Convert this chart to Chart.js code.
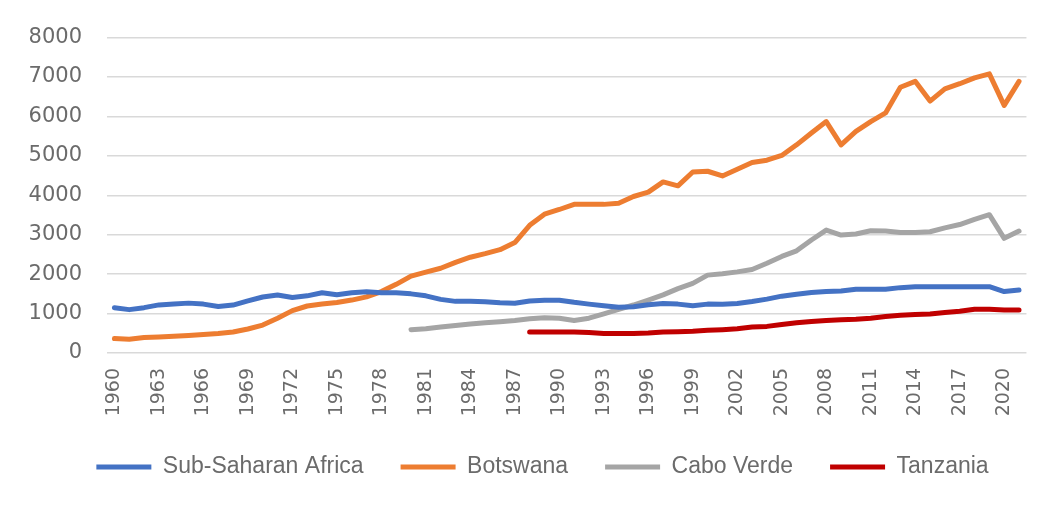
<!DOCTYPE html>
<html>
<head>
<meta charset="utf-8">
<script src="https://cdn.jsdelivr.net/npm/chart.js@4/dist/chart.umd.min.js"></script>
<style>
html,body{margin:0;padding:0;background:#fff;}
#wrap{width:1057px;height:508px;}
</style>
</head>
<body>
<div id="wrap"><canvas id="c" width="1057" height="508"></canvas></div>
<script>
const years = ['1960','1961','1962','1963','1964','1965','1966','1967','1968','1969',
'1970','1971','1972','1973','1974','1975','1976','1977','1978','1979',
'1980','1981','1982','1983','1984','1985','1986','1987','1988','1989',
'1990','1991','1992','1993','1994','1995','1996','1997','1998','1999',
'2000','2001','2002','2003','2004','2005','2006','2007','2008','2009',
'2010','2011','2012','2013','2014','2015','2016','2017','2018','2019',
'2020','2021'];

const subSaharanAfrica = [1150,1100,1150,1220,1240,1265,1240,1180,1215,1320,
1420,1470,1410,1450,1530,1480,1530,1555,1530,1530,
1500,1450,1360,1310,1310,1300,1275,1260,1320,1340,
1340,1285,1240,1200,1160,1175,1225,1255,1240,1200,
1240,1235,1258,1308,1367,1442,1492,1533,1558,1575,
1617,1617,1617,1658,1683,1683,1683,1683,1683,1683,
1558,1600];

const botswana = [367,350,392,408,425,442,467,492,533,608,
708,883,1075,1192,1242,1283,1342,1425,1558,1742,
1950,2050,2150,2300,2430,2520,2620,2800,3240,3520,
3640,3770,3770,3770,3800,3970,4080,4340,4240,4590,
4610,4490,4660,4830,4890,5010,5280,5580,5870,5280,
5620,5870,6090,6740,6890,6390,6700,6830,6980,7080,
6280,6890];

const caboVerde = [null,null,null,null,null,null,null,null,null,null,
null,null,null,null,null,null,null,null,null,null,
592,617,658,700,733,767,792,825,867,892,
883,825,883,992,1108,1217,1342,1475,1633,1767,
1975,2010,2058,2117,2275,2450,2592,2867,3117,2992,
3017,3100,3092,3058,3058,3075,3175,3258,3392,3508,
2908,3092];

const tanzania = [null,null,null,null,null,null,null,null,null,null,
null,null,null,null,null,null,null,null,null,null,
null,null,null,null,null,null,null,null,533,533,
533,533,517,492,492,492,508,533,542,550,
575,592,617,658,675,725,767,800,825,842,
858,883,925,958,975,992,1025,1058,1108,1108,
1092,1092];

const seriesNames = ['Sub-Saharan Africa','Botswana','Cabo Verde','Tanzania'];
const yTicks = [0,1000,2000,3000,4000,5000,6000,7000,8000];

const colors = ['#4472C4','#ED7D31','#A5A5A5','#C00000'];
const seriesData = [subSaharanAfrica, botswana, caboVerde, tanzania];

const datasets = seriesNames.map((name, i) => ({
  label: name,
  data: seriesData[i],
  borderColor: colors[i],
  backgroundColor: colors[i],
  borderWidth: 5,
  pointRadius: 0,
  tension: 0,
  borderJoinStyle: 'round',
  borderCapStyle: 'round',
  spanGaps: false
}));

const legendShift = {
  id: 'legendShift',
  afterLayout(chart) {
    const lg = chart.legend;
    if (lg) { lg.left += 25; lg.right += 25; }
  }
};

new Chart(document.getElementById('c'), {
  type: 'line',
  data: { labels: years, datasets },
  plugins: [legendShift],
  options: {
    responsive: false,
    animation: false,
    devicePixelRatio: 1,
    layout: { padding: { left: 0, right: 22, top: 33, bottom: 19.5 } },
    plugins: {
      tooltip: { enabled: false },
      legend: {
        position: 'bottom',
        labels: {
          boxWidth: 55,
          boxHeight: 5,
          padding: 37,
          color: '#6b6b6b',
          font: { family: "'Liberation Sans', Arial, sans-serif", size: 23 },
          generateLabels: (chart) => Chart.defaults.plugins.legend.labels.generateLabels(chart)
            .map(l => Object.assign(l, { lineWidth: 0, fillStyle: l.strokeStyle }))
        }
      }
    },
    scales: {
      x: {
        offset: true,
        grid: { display: false, drawTicks: false },
        border: { display: false },
        afterFit: (s) => { s.height = 65.5; },
        ticks: {
          autoSkip: false,
          maxRotation: 90,
          minRotation: 90,
          padding: 15,
          color: '#6b6b6b',
          font: { family: "'DejaVu Sans', sans-serif", size: 19 },
          callback: function(v, i) { return i % 3 === 0 ? years[i] : ''; }
        }
      },
      y: {
        min: 0,
        max: 8000,
        afterFit: (s) => { s.width = 107; },
        afterBuildTicks: (s) => { s.ticks = yTicks.map(v => ({ value: v })); },
        grid: { color: '#d9d9d9', lineWidth: 1.5, drawTicks: false },
        border: { display: false },
        ticks: {
          padding: 25,
          color: '#6b6b6b',
          font: { family: "'DejaVu Sans', sans-serif", size: 21 },
          callback: (v) => String(v)
        }
      }
    }
  }
});
</script>
</body>
</html>
